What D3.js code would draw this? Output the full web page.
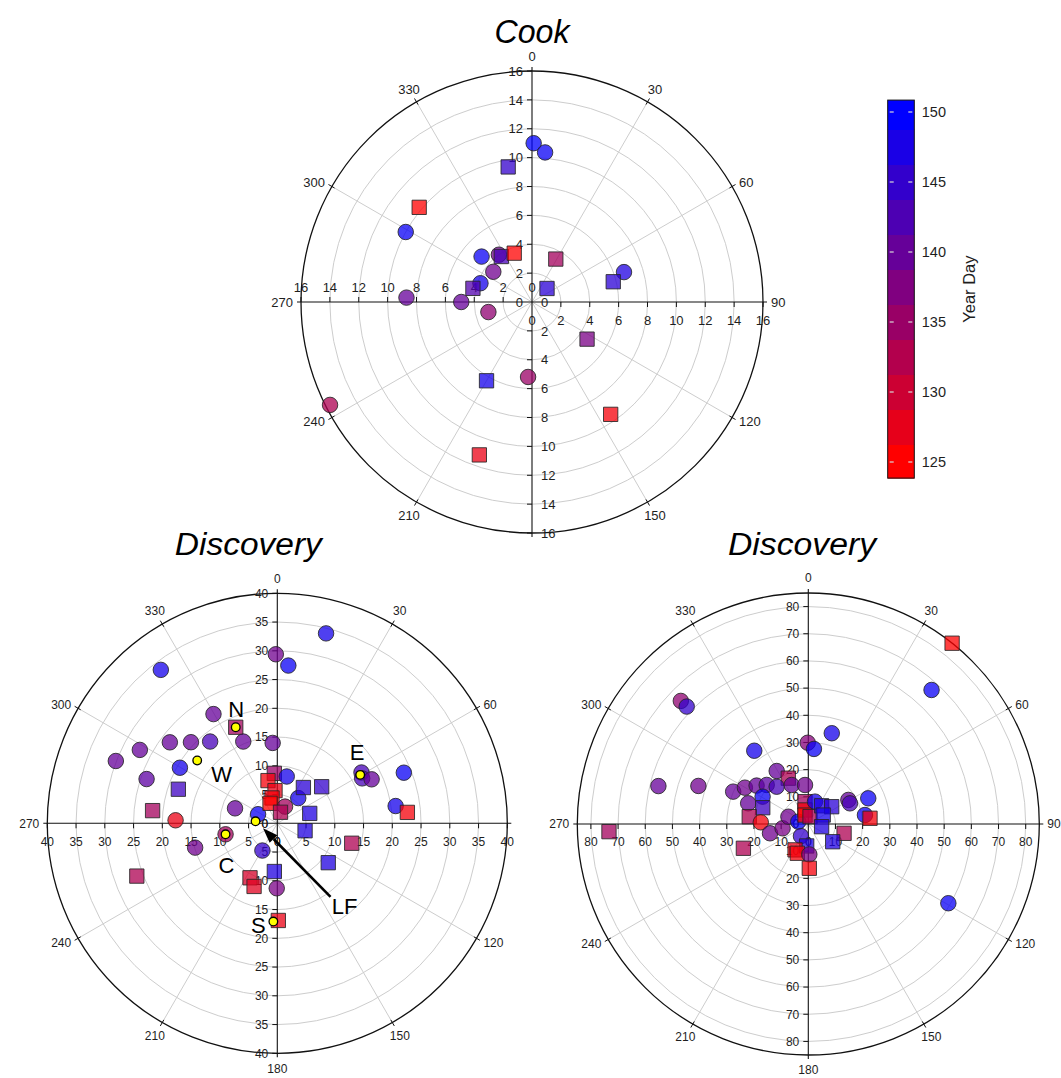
<!DOCTYPE html>
<html>
<head>
<meta charset="utf-8">
<script src="https://cdn.jsdelivr.net/npm/d3@7"></script>
<style>
  body { margin: 0; background: #fff; }
  svg { display: block; }
  text { font-family: "Liberation Sans", Arial, sans-serif; fill: #1e1e1e; }
</style>
</head>
<body>
<svg id="chart" width="1061" height="1078"></svg>
<script>
// ---- data: [direction (deg), magnitude, marker shape, year day] ----
const angleTicks = [0, 30, 60, 90, 120, 150, 180, 210, 240, 270, 300, 330];
const cookRadialTicks = [0, 2, 4, 6, 8, 10, 12, 14, 16];
const discLeftRadialTicks = [0, 5, 10, 15, 20, 25, 30, 35, 40];
const discRightRadialTicks = [0, 10, 20, 30, 40, 50, 60, 70, 80];
const yearDayTicks = [125, 130, 135, 140, 145, 150];

const cookPoints = [
  [0.6, 11.0, "circle", 150], [5, 10.4, "circle", 149], [350, 9.5, "square", 145],
  [310, 10.2, "square", 125], [299, 10.0, "circle", 149], [312, 4.7, "circle", 149],
  [325, 4.0, "circle", 139], [326, 3.8, "square", 143], [340, 3.6, "square", 125],
  [308, 3.4, "circle", 139], [29, 3.4, "square", 134], [290, 3.8, "circle", 148],
  [283, 4.2, "square", 142], [48, 1.4, "square", 146], [72, 6.7, "circle", 147],
  [76, 5.8, "square", 146], [272, 8.7, "circle", 140], [270, 4.9, "circle", 140],
  [257, 3.1, "circle", 136], [124, 4.6, "square", 138], [183, 5.2, "circle", 135],
  [210, 6.3, "square", 148], [243, 15.7, "circle", 133], [145, 9.5, "square", 126],
  [199, 11.2, "square", 127]
];

const discLeftPoints = [
  [322.8, 33.5, "circle", 148], [359.5, 29.4, "circle", 139], [4.0, 27.5, "circle", 149],
  [14.4, 34.1, "circle", 148], [329.7, 22.0, "circle", 140], [336.6, 18.2, "square", 134],
  [307, 23.4, "circle", 140], [313.2, 20.6, "circle", 140], [320.6, 18.4, "circle", 143],
  [337.4, 15.4, "circle", 140], [356.7, 14.0, "circle", 140], [298.1, 27.1, "circle", 140],
  [291.1, 30.1, "circle", 140], [299.7, 19.5, "circle", 148], [288.7, 24.0, "circle", 141],
  [289, 18.2, "square", 144], [275.8, 21.8, "square", 134], [271.7, 17.7, "circle", 127],
  [289.5, 7.8, "circle", 140], [295.3, 3.7, "circle", 149], [356.6, 8.7, "square", 135],
  [11.4, 8.3, "circle", 148], [347.7, 7.6, "square", 126], [356, 5.7, "square", 127],
  [348.2, 4.5, "square", 126], [340, 3.7, "square", 125], [24.9, 3.2, "circle", 134],
  [16.2, 2.0, "square", 133], [39.7, 5.7, "circle", 148], [36.1, 7.7, "square", 146],
  [50.5, 10.0, "square", 145], [73, 5.9, "square", 147], [58.9, 17.1, "circle", 143],
  [62.1, 16.7, "circle", 143], [65, 18.1, "circle", 140], [68.2, 23.7, "circle", 149],
  [81.7, 20.8, "circle", 148], [85.2, 22.7, "square", 126], [258, 9.2, "circle", 134],
  [253.5, 14.9, "circle", 139], [208.7, 5.4, "circle", 145], [105, 13.4, "square", 133],
  [105, 5.0, "square", 147], [127.7, 11.2, "square", 147], [183.5, 8.4, "square", 147],
  [249.4, 26.1, "square", 133], [206.6, 10.6, "square", 129], [200.2, 11.7, "square", 128],
  [180.5, 11.3, "circle", 138], [179.4, 16.9, "square", 127]
];

// mooring stations on the Discovery grid: [name, direction, magnitude]
const discStations = [
  ["N", 336.6, 18.2], ["W", 308.1, 17.7], ["E", 59.7, 16.7],
  ["C", 258, 9.2], ["LF", 275.2, 3.8], ["S", 182.3, 17.1]
];

const discRightPoints = [
  [38.5, 85, "square", 125], [42.6, 67.0, "circle", 149], [314, 65.2, "circle", 136],
  [314, 62.2, "circle", 145], [14.5, 34.5, "circle", 148], [359.6, 29.9, "circle", 137],
  [4.3, 27.7, "circle", 149], [323.6, 33.5, "circle", 148], [284.2, 56.9, "circle", 140],
  [289.1, 42.8, "circle", 139], [329.2, 22.7, "circle", 140], [336.4, 18.4, "square", 133],
  [293.3, 30.1, "circle", 140], [299.8, 26.9, "circle", 139], [306.6, 23.7, "circle", 140],
  [313.2, 21.0, "circle", 141], [319.7, 18.0, "circle", 143], [336.9, 15.6, "circle", 140],
  [355.2, 14.4, "circle", 139], [289, 23.4, "circle", 140], [300.9, 19.6, "circle", 149],
  [289.7, 17.8, "square", 144], [277.1, 21.9, "square", 133], [272, 17.5, "circle", 126],
  [256.4, 14.5, "circle", 139], [260.5, 9.6, "circle", 138], [290.1, 7.8, "circle", 139],
  [283, 3.8, "circle", 149], [351.6, 8.3, "square", 134], [346.7, 5.3, "square", 126],
  [339.9, 3.5, "square", 125], [13.1, 2.8, "square", 133], [16.7, 8.6, "circle", 148],
  [36.2, 8.3, "square", 147], [53.5, 10.7, "square", 146], [59, 6.4, "square", 148],
  [101.4, 5.0, "square", 147], [59, 17.2, "circle", 140], [63.6, 17.1, "circle", 143],
  [66.8, 24.0, "circle", 149], [81, 21.1, "circle", 149], [84.7, 22.8, "square", 126],
  [104.6, 13.6, "square", 133], [126, 11.1, "square", 147], [211.3, 5.2, "circle", 145],
  [184.2, 8.1, "square", 147], [207.1, 10.7, "square", 127], [200.6, 11.5, "square", 126],
  [178.1, 11.2, "circle", 138], [178.7, 16.3, "square", 126], [249.5, 25.5, "square", 133],
  [267.8, 73.4, "square", 134], [119.5, 59.2, "circle", 149]
];

// ---- layout ----
const cookLayout = { cx: 532, cy: 302, R: 231, max: 16, font: 13 };
const discLeftLayout = { cx: 277.3, cy: 823.3, R: 230, max: 40, font: 12 };
const discRightLayout = { cx: 808.3, cy: 824, R: 231, max: 85, font: 12 };

const svg = d3.select("#chart");
const toRad = d3.scaleLinear().domain([0, 360]).range([0, 2 * Math.PI]);
const dayColor = d3.scaleLinear().domain([125, 150]).range(["#ff0000", "#0000ff"]).clamp(true);
const symbol = d3.symbol();

function polarPlot(layout, opts) {
  const { cx, cy, R, max, font } = layout;
  const r = d3.scaleLinear().domain([0, max]).range([0, R]);
  const pos = (dir, mag) => d3.pointRadial(toRad(dir), r(mag));
  const g = svg.append("g").attr("transform", `translate(${cx},${cy})`);

  // grid rings
  g.selectAll("circle.ring")
    .data(opts.ticks.filter(t => t > 0 && t < max))
    .join("circle").attr("class", "ring")
    .attr("r", d => r(d))
    .attr("fill", "none").attr("stroke", "#cdcdcd").attr("stroke-width", 1);

  // spokes every 30 degrees
  g.selectAll("line.spoke")
    .data(angleTicks.filter(a => a % 90 !== 0))
    .join("line").attr("class", "spoke")
    .attr("x1", 0).attr("y1", 0)
    .attr("x2", d => pos(d, max)[0]).attr("y2", d => pos(d, max)[1])
    .attr("stroke", "#cdcdcd").attr("stroke-width", 1);

  // outer rim
  g.append("circle").attr("r", R).attr("fill", "none")
    .attr("stroke", "#111").attr("stroke-width", 1.3);

  // rim ticks
  g.selectAll("line.rimtick")
    .data(angleTicks.filter(a => a % 90 !== 0))
    .join("line").attr("class", "rimtick")
    .attr("x1", d => d3.pointRadial(toRad(d), R - 3)[0])
    .attr("y1", d => d3.pointRadial(toRad(d), R - 3)[1])
    .attr("x2", d => d3.pointRadial(toRad(d), R + 4)[0])
    .attr("y2", d => d3.pointRadial(toRad(d), R + 4)[1])
    .attr("stroke", "#111").attr("stroke-width", 1);

  // cross axes
  g.append("line").attr("x1", 0).attr("x2", 0).attr("y1", -R - 4).attr("y2", R + 4)
    .attr("stroke", "#111").attr("stroke-width", 1.1);
  g.append("line").attr("y1", 0).attr("y2", 0).attr("x1", -R - 4).attr("x2", R + 4)
    .attr("stroke", "#111").attr("stroke-width", 1.1);

  // direction labels
  angleTicks.filter(a => !opts.hideAngles.includes(a)).forEach(a => {
    const s = Math.sin(toRad(a));
    let anchor = "middle", dist = R + 15;
    if (s > 0.8) { anchor = "start"; dist = R + 8; }
    else if (s < -0.8) { anchor = "end"; dist = R + 8; }
    const [x, y] = d3.pointRadial(toRad(a), dist);
    g.append("text").attr("x", x).attr("y", y).attr("dy", "0.36em")
      .attr("text-anchor", anchor).attr("font-size", font).text(a);
  });

  // magnitude ticks and labels along the four axes
  const arms = [
    { dir: 0, side: opts.north }, { dir: 180, side: opts.south },
    { dir: 270, side: opts.west }, { dir: 90, side: opts.east }
  ];
  arms.forEach(arm => {
    opts.ticks.forEach(t => {
      const [x, y] = pos(arm.dir, t);
      if (t > 0) {
        const vertical = arm.dir % 180 === 0;
        const up = arm.side === "above" ? -5 : 5;
        g.append("line")
          .attr("x1", x).attr("y1", y)
          .attr("x2", vertical ? x - 5 : x).attr("y2", vertical ? y : y + up)
          .attr("stroke", "#111").attr("stroke-width", 1);
      }
      let lx = x, ly = y, anchor = "middle";
      if (arm.side === "left") { lx = x - 9; anchor = "end"; }
      else if (arm.side === "right") { lx = x + 9; anchor = "start"; }
      else if (arm.side === "above") { ly = y - 15; }
      else { ly = y + 18; }
      g.append("text").attr("x", lx).attr("y", ly).attr("dy", "0.36em")
        .attr("text-anchor", anchor).attr("font-size", font).text(t);
    });
  });

  // data markers
  g.selectAll("path.mark")
    .data(opts.points)
    .join("path").attr("class", "mark")
    .attr("transform", d => { const [x, y] = pos(d[0], d[1]); return `translate(${x},${y})`; })
    .attr("d", d => symbol.type(d[2] === "circle" ? d3.symbolCircle : d3.symbolSquare)
                          .size(d[2] === "circle" ? 188 : 205)())
    .attr("fill", d => dayColor(d[3])).attr("fill-opacity", 0.75)
    .attr("stroke", "#262626").attr("stroke-opacity", 0.85).attr("stroke-width", 1);

  return { g, pos };
}

// ---- titles ----
function title(text, x, y, size, width) {
  svg.append("text").attr("x", x).attr("y", y).attr("text-anchor", "middle")
    .attr("font-family", "'Open Sans', sans-serif").attr("font-style", "italic")
    .attr("font-size", size).attr("textLength", width).attr("lengthAdjust", "spacingAndGlyphs")
    .style("fill", "#000").text(text);
}
title("Cook", 532, 43, 34, 75);
title("Discovery", 248.3, 555, 31, 147);
title("Discovery", 802, 555, 31, 148);

// ---- polar panels ----
polarPlot(cookLayout, {
  ticks: cookRadialTicks, points: cookPoints, hideAngles: [180],
  north: "left", south: "right", west: "above", east: "below"
});

const left = polarPlot(discLeftLayout, {
  ticks: discLeftRadialTicks, points: discLeftPoints, hideAngles: [90],
  north: "left", south: "left", west: "below", east: "below"
});

// station dots and names
const labelOffset = { N: [0.5, -18], W: [24.5, 14], E: [-3, -23], C: [1, 31], S: [-15, 4], LF: [89, 85] };
discStations.forEach(([name, dir, mag]) => {
  const [x, y] = left.pos(dir, mag);
  left.g.append("circle").attr("cx", x).attr("cy", y).attr("r", 4.3)
    .attr("fill", "#ffff00").attr("stroke", "#000").attr("stroke-width", 1.3);
  const [ox, oy] = labelOffset[name];
  left.g.append("text").attr("x", x + ox).attr("y", y + oy).attr("dy", "0.36em")
    .attr("text-anchor", "middle").attr("font-family", "'Open Sans', sans-serif")
    .attr("font-size", 22).style("fill", "#000").text(name);
});

// arrow pointing at the LF station
{
  const lf = discStations.find(s => s[0] === "LF");
  const [x, y] = left.pos(lf[1], lf[2]);
  const tail = [x + 75, y + 75.5], tip = [x + 7.5, y + 7];
  const ang = Math.atan2(tip[1] - tail[1], tip[0] - tail[0]);
  const headLen = 15, headHalf = 5.5;
  const base = [tip[0] - headLen * Math.cos(ang), tip[1] - headLen * Math.sin(ang)];
  left.g.append("line").attr("x1", tail[0]).attr("y1", tail[1])
    .attr("x2", base[0]).attr("y2", base[1])
    .attr("stroke", "#000").attr("stroke-width", 2.6);
  const nx = -Math.sin(ang), ny = Math.cos(ang);
  left.g.append("path")
    .attr("d", `M${tip[0]},${tip[1]}L${base[0] + nx * headHalf},${base[1] + ny * headHalf}` +
               `L${base[0] - nx * headHalf},${base[1] - ny * headHalf}Z`)
    .attr("fill", "#000");
}

polarPlot(discRightLayout, {
  ticks: discRightRadialTicks, points: discRightPoints, hideAngles: [],
  north: "left", south: "left", west: "below", east: "below"
});

// ---- colour bar ----
{
  const x0 = 887.7, w = 26.6;
  const y = d3.scaleLinear().domain([125, 150]).range([462, 112]);
  const lo = 123.85, hi = 150.85;
  const edges = [lo, 126.25, 128.75, 131.25, 133.75, 136.25, 138.75, 141.25, 143.75, 146.25, 148.75, hi];
  const bands = d3.pairs(edges).map(([a, b], i) => ({ a, b, v: 125 + 2.5 * i }));
  const cb = svg.append("g");
  cb.selectAll("rect.band").data(bands).join("rect").attr("class", "band")
    .attr("x", x0).attr("width", w)
    .attr("y", d => y(d.b)).attr("height", d => y(d.a) - y(d.b) + 0.5)
    .attr("fill", d => dayColor(d.v));
  cb.append("rect").attr("x", x0).attr("y", y(hi)).attr("width", w).attr("height", y(lo) - y(hi))
    .attr("fill", "none").attr("stroke", "#111").attr("stroke-width", 1);
  yearDayTicks.forEach(t => {
    cb.append("line").attr("x1", x0 + 2).attr("x2", x0 + 6).attr("y1", y(t)).attr("y2", y(t))
      .attr("stroke", "#d8d8d8").attr("stroke-width", 1.2);
    cb.append("line").attr("x1", x0 + w - 6).attr("x2", x0 + w - 2).attr("y1", y(t)).attr("y2", y(t))
      .attr("stroke", "#d8d8d8").attr("stroke-width", 1.2);
    cb.append("text").attr("x", x0 + w + 7.5).attr("y", y(t)).attr("dy", "0.36em")
      .attr("font-size", 14.5).text(t);
  });
  cb.append("text").attr("transform", `translate(975,${(y(lo) + y(hi)) / 2}) rotate(-90)`)
    .attr("text-anchor", "middle").attr("font-size", 16.5).text("Year Day");
}
</script>
</body>
</html>
